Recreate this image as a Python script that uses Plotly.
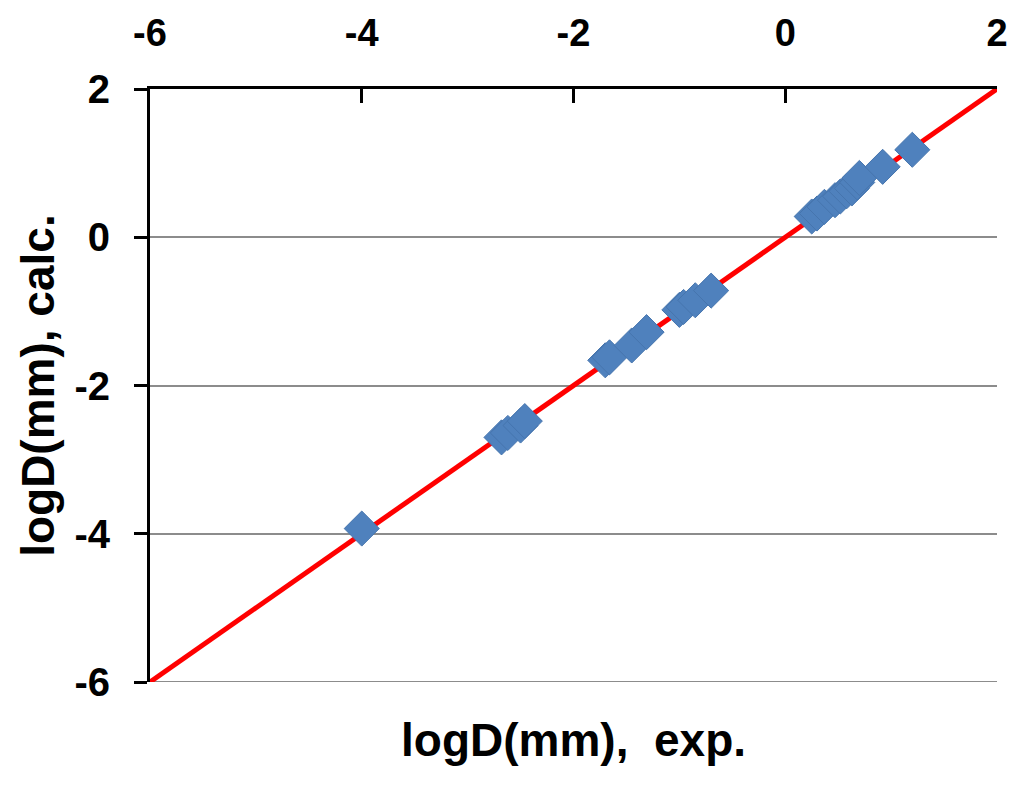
import plotly.graph_objects as go

# Experimental vs calculated logD(mm)
exp_vals = [-4.00, -2.68, -2.62, -2.50, -2.46, -1.70, -1.66, -1.45, -1.31,
            -1.00, -0.96, -0.85, -0.70, 0.25, 0.30, 0.37, 0.47, 0.52, 0.58,
            0.63, 0.68, 0.70, 0.92, 1.20]
calc_vals = [-3.93, -2.70, -2.64, -2.54, -2.48, -1.66, -1.62, -1.46, -1.28,
             -0.98, -0.94, -0.85, -0.72, 0.28, 0.32, 0.41, 0.50, 0.55, 0.62,
             0.66, 0.74, 0.80, 0.95, 1.18]

line_x = [-6, 2]
line_y = [-6, 2]

x_ticks = [-6, -4, -2, 0, 2]
y_ticks = [-6, -4, -2, 0, 2]

x_title = "logD(mm),  exp."
y_title = "logD(mm), calc."

font_family = "Liberation Sans, Arial, sans-serif"

fig = go.Figure()
fig.add_trace(go.Scatter(
    x=line_x, y=line_y, mode="lines",
    line=dict(color="#FF0000", width=5),
    hoverinfo="skip", showlegend=False,
))
fig.add_trace(go.Scatter(
    x=exp_vals, y=calc_vals, mode="markers",
    marker=dict(symbol="diamond", size=27, color="#4F81BD",
                line=dict(color="#4675AE", width=1)),
    showlegend=False,
))

fig.update_layout(
    width=1024, height=786,
    margin=dict(l=142, r=35, t=81, b=112),
    paper_bgcolor="white", plot_bgcolor="white",
    font=dict(family=font_family, color="black"),
    xaxis=dict(
        range=[-6, 2], side="top", tickvals=x_ticks,
        ticktext=[str(v) for v in x_ticks],
        showgrid=False, zeroline=False, automargin=False,
        showline=True, linecolor="black", linewidth=3,
        ticks="inside", ticklen=14, tickwidth=3, tickcolor="black",
        tickfont=dict(size=38, family=font_family, color="black", weight="bold"),
        ticklabelstandoff=25,
    ),
    yaxis=dict(
        range=[-6, 2], tickvals=y_ticks,
        ticktext=[str(v) for v in y_ticks],
        showgrid=True, gridcolor="#8C8C8C", gridwidth=2,
        zeroline=False, automargin=False,
        showline=True, linecolor="black", linewidth=3,
        ticks="outside", ticklen=13, tickwidth=3, tickcolor="black",
        tickfont=dict(size=40, family=font_family, color="black", weight="bold"),
        ticklabelstandoff=16,
    ),
    shapes=[
        dict(type="line", xref="paper", yref="y", x0=0, x1=1, y0=-6, y1=-6,
             line=dict(color="#8C8C8C", width=2), layer="below"),
    ],
    annotations=[
        dict(text=x_title, xref="paper", yref="paper", x=0.5, y=-0.098,
             xanchor="center", yanchor="middle", showarrow=False,
             font=dict(size=46, family=font_family, color="black", weight="bold")),
        dict(text=y_title, xref="paper", yref="paper", x=-0.133, y=0.5,
             xanchor="center", yanchor="middle", showarrow=False, textangle=-90,
             font=dict(size=46, family=font_family, color="black", weight="bold")),
    ],
)

fig.write_html("out.html")
